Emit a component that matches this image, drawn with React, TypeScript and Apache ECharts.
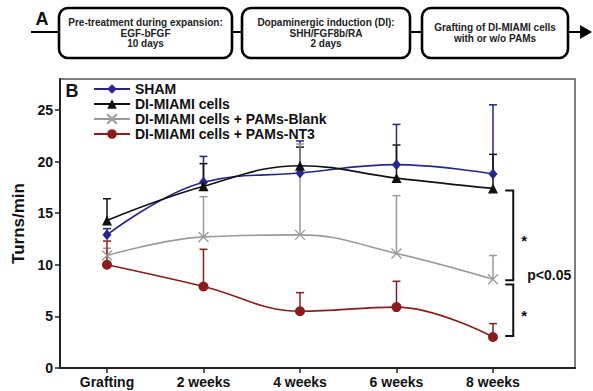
import React, { useEffect, useRef } from "react";
import * as echarts from "echarts";

const categories = ["Grafting", "2 weeks", "4 weeks", "6 weeks", "8 weeks"];
const seriesNames = [
  "SHAM",
  "DI-MIAMI cells",
  "DI-MIAMI cells + PAMs-Blank",
  "DI-MIAMI cells + PAMs-NT3",
];
const shamMean = [12.9, 18.0, 18.9, 19.7, 18.8];
const shamTop = [13.5, 20.5, 22.0, 23.6, 25.5];
const diMean = [14.3, 17.6, 19.6, 18.4, 17.4];
const diTop = [16.4, 19.8, 21.4, 21.6, 20.7];
const blankMean = [10.9, 12.7, 12.9, 11.1, 8.6];
const blankTop = [11.6, 16.6, 21.7, 16.7, 10.9];
const nt3Mean = [10.0, 7.9, 5.5, 5.9, 3.0];
const nt3Top = [12.3, 11.5, 7.3, 8.4, 4.3];
const yTicks = [0, 5, 10, 15, 20, 25];

// significance brackets: [x position, top value, bottom value]
const bracketX = 4.21;
const bracketTops = [17.2, 8.1];
const bracketBottoms = [8.5, 3.1];
const bracketLabel = "*";
const pLabel = "p<0.05";

const flowSteps = [
  ["Pre-treatment during expansion:", "EGF-bFGF", "10 days"],
  ["Dopaminergic induction (DI):", "SHH/FGF8b/RA", "2 days"],
  ["Grafting of DI-MIAMI cells", "with or w/o PAMs"],
];

const FONT = '"Liberation Sans", Arial, sans-serif';
const colors = ["#26268c", "#111111", "#9a9a9a", "#8a1c1c"];
const means = [shamMean, diMean, blankMean, nt3Mean];
const tops = [shamTop, diTop, blankTop, nt3Top];
const symbols = [
  "diamond",
  "triangle",
  "path://M0,0L10,10M10,0L0,10",
  "circle",
];
const symbolSizes: any[] = [[9, 11], 10, 10, 10];

export default function App() {
  const ref = useRef<HTMLDivElement>(null);
  useEffect(() => {
    const chart = echarts.init(ref.current!, null, { renderer: "svg" });

    const lineSeries = seriesNames.map((name, k) => ({
      name,
      type: "line",
      z: 3,
      smooth: 0.4,
      data: means[k].map((v, i) => [i, v]),
      symbol: symbols[k],
      symbolSize: symbolSizes[k],
      color: colors[k],
      lineStyle: { color: colors[k], width: 1.6 },
      itemStyle:
        k === 2
          ? { color: colors[k], borderColor: colors[k], borderWidth: 1.3 }
          : { color: colors[k], borderWidth: 0 },
      emphasis: { disabled: true },
    }));

    const errSeries = seriesNames.map((name, k) => ({
      name: "err-" + name,
      type: "custom",
      z: 2,
      silent: true,
      encode: { x: 0, y: [1, 2] },
      data: means[k].map((v, i) => [i, v, tops[k][i]]),
      renderItem: (params: any, api: any) => {
        const x = api.value(0);
        const p0 = api.coord([x, api.value(1)]);
        const p1 = api.coord([x, api.value(2)]);
        const st = { stroke: colors[k], lineWidth: 1.5 };
        return {
          type: "group",
          children: [
            { type: "line", shape: { x1: p0[0], y1: p0[1], x2: p1[0], y2: p1[1] }, style: st },
            { type: "line", shape: { x1: p1[0] - 4, y1: p1[1], x2: p1[0] + 4, y2: p1[1] }, style: st },
          ],
        };
      },
    }));

    const bracketSeries = {
      name: "brackets",
      type: "custom",
      z: 4,
      silent: true,
      encode: { x: 0, y: [1, 2] },
      data: bracketTops.map((t, i) => [bracketX, t, bracketBottoms[i], i]),
      renderItem: (params: any, api: any) => {
        const x = api.value(0);
        const a = api.coord([x, api.value(1)]);
        const b = api.coord([x, api.value(2)]);
        const children: any[] = [
          {
            type: "polyline",
            shape: { points: [[a[0] - 8, a[1]], [a[0], a[1]], [b[0], b[1]], [b[0] - 8, b[1]]] },
            style: { stroke: "#111", lineWidth: 2, fill: null },
          },
          {
            type: "text",
            x: a[0] + 11,
            y: (a[1] + b[1]) / 2 + 5,
            style: { text: bracketLabel, font: `bold 15px ${FONT}`, fill: "#111", align: "center", verticalAlign: "middle" },
          },
        ];
        if (api.value(3) === 0) {
          children.push({
            type: "text",
            x: b[0] + 14,
            y: b[1] - 5,
            style: { text: pLabel, font: `bold 14px ${FONT}`, fill: "#111", align: "left", verticalAlign: "middle" },
          });
        }
        return { type: "group", children };
      },
    };

    // Panel A flowchart
    const boxes = [
      [59, 232],
      [242, 410],
      [422, 568],
    ];
    const graphics: any[] = [
      { type: "line", shape: { x1: 31, y1: 32, x2: 584, y2: 32 }, style: { stroke: "#000", lineWidth: 2.2 } },
      { type: "polygon", shape: { points: [[580, 25], [592, 32], [580, 39]] }, style: { fill: "#000" } },
      { type: "text", x: 42, y: 19, style: { text: "A", font: `bold 18px ${FONT}`, fill: "#111", align: "center", verticalAlign: "middle" } },
      { type: "text", x: 72, y: 91, style: { text: "B", font: `bold 18px ${FONT}`, fill: "#111", align: "center", verticalAlign: "middle" } },
    ];
    boxes.forEach(([l, r], i) => {
      graphics.push({
        type: "rect",
        shape: { x: l, y: 8, width: r - l, height: 50, r: 9 },
        style: { fill: "#fff", stroke: "#000", lineWidth: 2.6 },
      });
      const lines = flowSteps[i];
      const lh = 10.5;
      const startY = 33 - ((lines.length - 1) * lh) / 2;
      lines.forEach((t, j) => {
        graphics.push({
          type: "text",
          x: (l + r) / 2,
          y: startY + j * lh,
          style: { text: t, font: `bold 10px ${FONT}`, fill: "#222", align: "center", verticalAlign: "middle" },
        });
      });
    });

    chart.setOption({
      animation: false,
      backgroundColor: "#fff",
      textStyle: { fontFamily: FONT },
      grid: {
        left: 60,
        right: 18,
        top: 79,
        bottom: 23,
        show: true,
        borderColor: "#555",
        borderWidth: 1.5,
        containLabel: false,
        outerBoundsMode: "none",
      },
      legend: {
        data: seriesNames,
        orient: "vertical",
        left: 88,
        top: 77,
        itemWidth: 36,
        itemHeight: 12,
        itemGap: 1,
        selectedMode: false,
        textStyle: { fontFamily: FONT, fontWeight: "bold", fontSize: 14, color: "#111", lineHeight: 14 },
      },
      xAxis: {
        type: "value",
        min: -0.487,
        max: 4.85,
        splitLine: { show: false },
        axisLine: { onZero: false, lineStyle: { color: "#222", width: 2 } },
        axisTick: { show: true, customValues: [0, 1, 2, 3, 4], length: 5, inside: false, lineStyle: { color: "#222", width: 1.5 } },
        axisLabel: {
          customValues: [0, 1, 2, 3, 4],
          formatter: (v: number) => categories[Math.round(v)] ?? "",
          fontWeight: "bold",
          fontSize: 14,
          color: "#111",
          margin: 7,
          fontFamily: FONT,
        },
      },
      yAxis: {
        type: "value",
        min: 0,
        max: 28,
        name: "Turns/min",
        nameLocation: "middle",
        nameGap: 27,
        nameTextStyle: { fontWeight: "bold", fontSize: 17, color: "#111", fontFamily: FONT },
        splitLine: { show: false },
        axisLine: { show: true, onZero: false, lineStyle: { color: "#222", width: 2 } },
        axisTick: { show: true, customValues: yTicks, length: 5, lineStyle: { color: "#222", width: 1.5 } },
        axisLabel: {
          customValues: yTicks,
          fontWeight: "bold",
          fontSize: 14,
          color: "#111",
          margin: 7,
          fontFamily: FONT,
        },
      },
      graphic: graphics,
      series: [...errSeries, ...lineSeries, bracketSeries],
    });
    return () => chart.dispose();
  }, []);
  return (
    <div
      ref={ref}
      style={{ position: "absolute", left: 0, top: 0, width: 593, height: 391 }}
    />
  );
}
